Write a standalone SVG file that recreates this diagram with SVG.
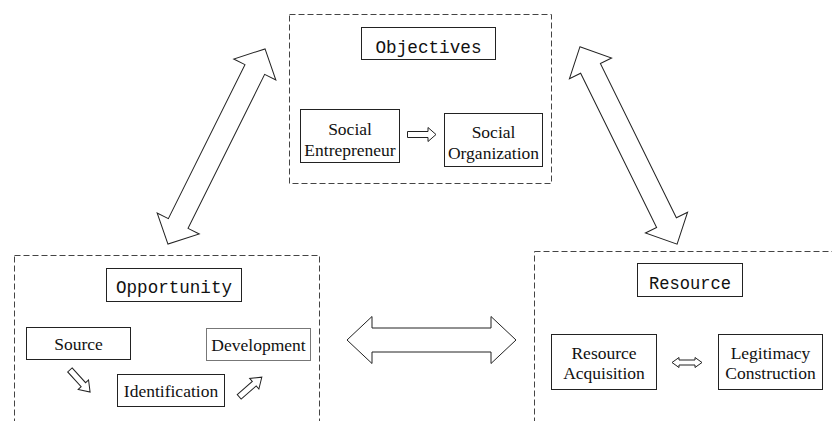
<svg xmlns="http://www.w3.org/2000/svg" width="832" height="421" viewBox="0 0 832 421">
<style>
.group{fill:none;stroke:#444;stroke-width:1;stroke-dasharray:6 3}
.box{fill:#fff;stroke:#222;stroke-width:1}
.title{font-family:"Liberation Mono","DejaVu Sans Mono",monospace;font-size:19px;fill:#111;text-anchor:middle}
.lbl{font-family:"Liberation Serif","Times New Roman",serif;font-size:17.5px;fill:#111;text-anchor:middle}
.arr{fill:#fff;stroke:#222;stroke-width:1;stroke-linejoin:miter}
</style>
<rect width="832" height="421" fill="#fff"/>
<g id="objectives">
<rect class="group" x="289.5" y="14.5" width="262" height="169"/>
<rect class="box" x="361.5" y="27.5" width="134" height="32"/>
<text class="title" x="428.5" y="52.5" textLength="106" lengthAdjust="spacingAndGlyphs">Objectives</text>
</g>
<g id="social-entrepreneur">
<rect class="box" x="300.5" y="109.5" width="99" height="53"/>
<text class="lbl" x="350" y="135">Social</text>
<text class="lbl" x="350" y="155.5">Entrepreneur</text>
</g>
<g id="social-organization">
<rect class="box" x="444.5" y="113.5" width="98" height="53"/>
<text class="lbl" x="493.5" y="138">Social</text>
<text class="lbl" x="493.5" y="158.5">Organization</text>
</g>
<g id="opportunity">
<rect class="group" x="14.5" y="255.5" width="305" height="180"/>
<rect class="box" x="106.5" y="268.5" width="135" height="33"/>
<text class="title" x="174" y="293" textLength="116" lengthAdjust="spacingAndGlyphs">Opportunity</text>
</g>
<g id="source">
<rect class="box" x="26.5" y="327.5" width="104" height="32"/>
<text class="lbl" x="78.5" y="350">Source</text>
</g>
<g id="identification">
<rect class="box" x="117.5" y="374.5" width="107" height="32"/>
<text class="lbl" x="171" y="397">Identification</text>
</g>
<g id="development">
<rect class="box" x="206.5" y="328.5" width="104" height="32" style="stroke:#777"/>
<text class="lbl" x="258.5" y="351">Development</text>
</g>
<g id="resource">
<rect class="group" x="534.5" y="251.5" width="310" height="190"/>
<rect class="box" x="637.5" y="263.5" width="105" height="33"/>
<text class="title" x="690" y="289" textLength="82" lengthAdjust="spacingAndGlyphs">Resource</text>
</g>
<g id="resource-acquisition">
<rect class="box" x="551.5" y="334.5" width="105" height="55"/>
<text class="lbl" x="604" y="358.5">Resource</text>
<text class="lbl" x="604" y="378.5">Acquisition</text>
</g>
<g id="legitimacy-construction">
<rect class="box" x="718.5" y="334.5" width="104" height="55"/>
<text class="lbl" x="770.5" y="358.5">Legitimacy</text>
<text class="lbl" x="770.5" y="378.5">Construction</text>
</g>
<g id="connectors">
<polygon class="arr" transform="translate(216.5,146.5) rotate(-63.55)" points="-109,0 -86,-23.5 -86,-11 86,-11 86,-23.5 109,0 86,23.5 86,11 -86,11 -86,23.5"/>
<polygon class="arr" transform="translate(628.5,145.5) rotate(63.78)" points="-110,0 -86,-23.5 -86,-11 86,-11 86,-23.5 110,0 86,23.5 86,11 -86,11 -86,23.5"/>
<polygon class="arr" transform="translate(431.5,340)" points="-84.5,0 -59.5,-23.5 -59.5,-12 59.5,-12 59.5,-23.5 84.5,0 59.5,23.5 59.5,12 -59.5,12 -59.5,23.5"/>
<polygon class="arr" points="407.5,131.5 428,131.5 428,127.5 436,134.5 428,141.5 428,137.5 407.5,137.5"/>
<polygon class="arr" transform="translate(80,381) rotate(47.7)" points="-15,-3 5,-3 5,-7 15,0 5,7 5,3 -15,3"/>
<polygon class="arr" transform="translate(250.5,387) rotate(-41)" points="-15,-3 5,-3 5,-7 15,0 5,7 5,3 -15,3"/>
<polygon class="arr" transform="translate(687,362.5)" points="-15,0 -8,-5 -8,-2.5 8,-2.5 8,-5 15,0 8,5 8,2.5 -8,2.5 -8,5"/>
</g>
</svg>
